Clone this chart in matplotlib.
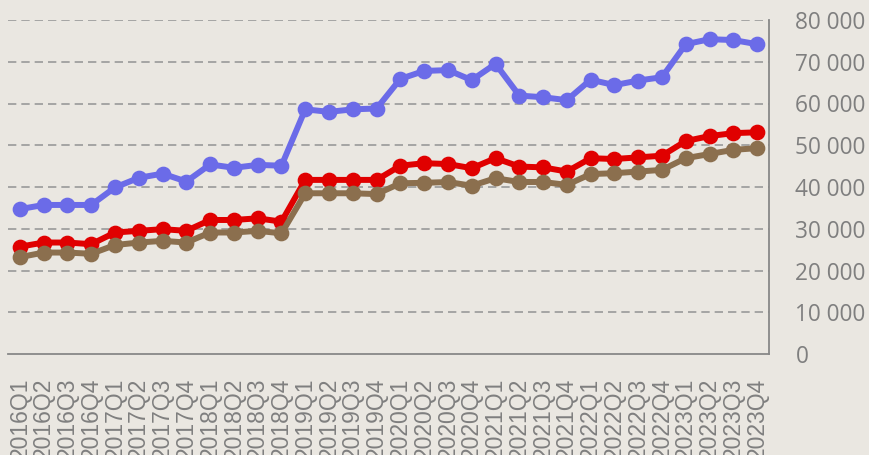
import matplotlib.pyplot as plt
from matplotlib.ticker import FuncFormatter

# Data
quarters = [f'{y}Q{q}' for y in range(2016, 2024) for q in range(1, 5)]
blue = [34700, 35700, 35700, 35700, 39900, 42200, 43200, 41300,
        45400, 44600, 45300, 45100, 58600, 58000, 58600, 58800,
        65900, 67800, 68000, 65600, 69500, 61900, 61500, 60800,
        65700, 64400, 65500, 66300, 74200, 75400, 75200, 74200]
red = [25700, 26700, 26700, 26300, 29100, 29500, 29900, 29500,
       32100, 32100, 32500, 31700, 41700, 41700, 41700, 41700,
       45100, 45700, 45500, 44500, 46900, 44900, 44700, 43700,
       46900, 46700, 47100, 47500, 51000, 52200, 52900, 53100]
brown = [23200, 24300, 24300, 24000, 26100, 26700, 27100, 26700,
         29100, 29100, 29500, 28900, 38500, 38500, 38500, 38300,
         40900, 41000, 41200, 40300, 42100, 41200, 41200, 40500,
         43100, 43300, 43700, 44100, 46900, 47900, 48900, 49300]

bg = '#EAE7E1'
fig = plt.figure(figsize=(8.7, 4.55), dpi=100, facecolor=bg)
ax = fig.add_axes([8 / 870, 101 / 455, 761 / 870, 334 / 455], facecolor=bg)

x = range(len(quarters))
for vals, col in [(blue, '#6B6BE8'), (red, '#E00000'), (brown, '#8B6F4E')]:
    ax.plot(x, vals, color=col, lw=4.3, marker='o', ms=10.3, zorder=3)

ax.set_xlim(-0.5, len(quarters) - 0.5)
ax.set_ylim(0, 80000)
ax.set_yticks(range(0, 80001, 10000))
ax.yaxis.set_major_formatter(FuncFormatter(
    lambda v, p: f'{int(v):,}'.replace(',', ' ')))
ax.yaxis.tick_right()
ax.tick_params(axis='y', length=0, pad=19, labelsize=16.3,
               labelcolor='#7F7F7F')
for lbl in ax.get_yticklabels():
    lbl.set_fontfamily('Open Sans')

ax.set_xticks(list(x))
ax.set_xticklabels(quarters, rotation=90, va='top', ha='center',
                   fontsize=16.5, color='#7F7F7F', family='Liberation Sans')
ax.tick_params(axis='x', length=0, pad=17)

for yv in range(10000, 80001, 10000):
    ax.axhline(yv, color='#999999', lw=1.2, ls=(0, (5, 3)), zorder=1)

for s in ['top', 'left']:
    ax.spines[s].set_visible(False)
for s in ['bottom', 'right']:
    ax.spines[s].set_color('#888888')
    ax.spines[s].set_linewidth(1.3)

fig.savefig('out.png', dpi=100, facecolor=bg)
